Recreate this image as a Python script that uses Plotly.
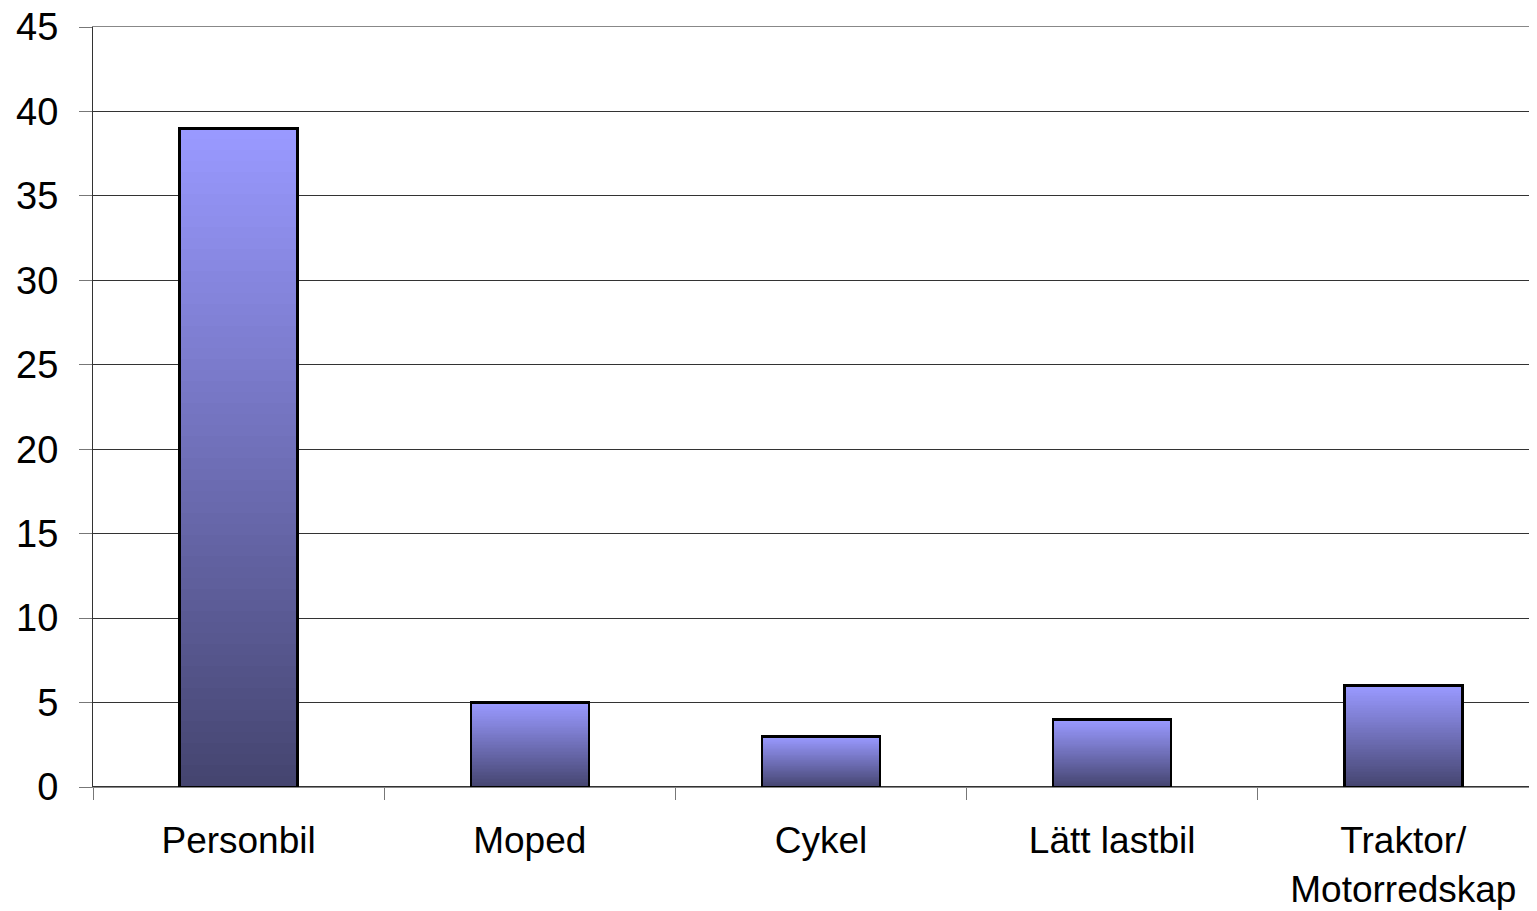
import plotly.graph_objects as go

categories = ["Personbil", "Moped", "Cykel", "Lätt lastbil", "Traktor/<br>Motorredskap"]
values = [39, 5, 3, 4, 6]
y_ticks = [0, 5, 10, 15, 20, 25, 30, 35, 40, 45]

# gradient from dark (bottom) to light (top), drawn as stacked slices of each bar
N_STEPS = 60
dark = (69, 69, 112)
light = (153, 153, 255)


def blend(t):
    r, g, b = (round(d + (l - d) * t) for d, l in zip(dark, light))
    return f"rgb({r},{g},{b})"


fig = go.Figure()

for k in range(N_STEPS):
    fig.add_trace(go.Bar(
        x=categories,
        y=[v / N_STEPS for v in values],
        marker=dict(color=blend(k / (N_STEPS - 1)), line=dict(width=0)),
        width=0.405,
        showlegend=False,
        hoverinfo="skip",
    ))

# outline on an overlaid axis so it is not stacked
fig.add_trace(go.Bar(
    x=categories,
    y=values,
    xaxis="x2",
    marker=dict(color="rgba(0,0,0,0)", line=dict(color="black", width=2.5)),
    width=0.405,
    showlegend=False,
    hovertemplate="%{x}: %{y}<extra></extra>",
))

x_range = [-0.5, 4.459]

fig.update_layout(
    barmode="stack",
    width=1529,
    height=911,
    margin=dict(l=85, r=0, t=19, b=132, autoexpand=False),
    plot_bgcolor="white",
    paper_bgcolor="white",
    font=dict(family="Liberation Sans, Arial, sans-serif", size=38, color="black"),
    xaxis=dict(
        type="category",
        range=x_range,
        tickson="boundaries",
        ticks="outside",
        ticklen=12,
        tickcolor="#777777",
        showline=True,
        mirror=True,
        linecolor="#888888",
        linewidth=1,
        showgrid=False,
        zeroline=False,
        ticklabelstandoff=21,
        automargin=False,
        ticklabeloverflow="allow",
        tickfont=dict(size=37),
    ),
    xaxis2=dict(
        type="category",
        range=x_range,
        overlaying="x",
        visible=False,
    ),
    yaxis=dict(
        range=[0, 45],
        tickvals=y_ticks,
        ticks="outside",
        ticklen=13,
        tickcolor="#777777",
        showline=True,
        linecolor="#333333",
        linewidth=1,
        showgrid=True,
        gridcolor="#333333",
        gridwidth=1,
        zeroline=True,
        zerolinecolor="#333333",
        zerolinewidth=2,
        ticklabelstandoff=13,
        automargin=False,
        ticklabeloverflow="allow",
    ),
)

fig.write_html("out.html")
